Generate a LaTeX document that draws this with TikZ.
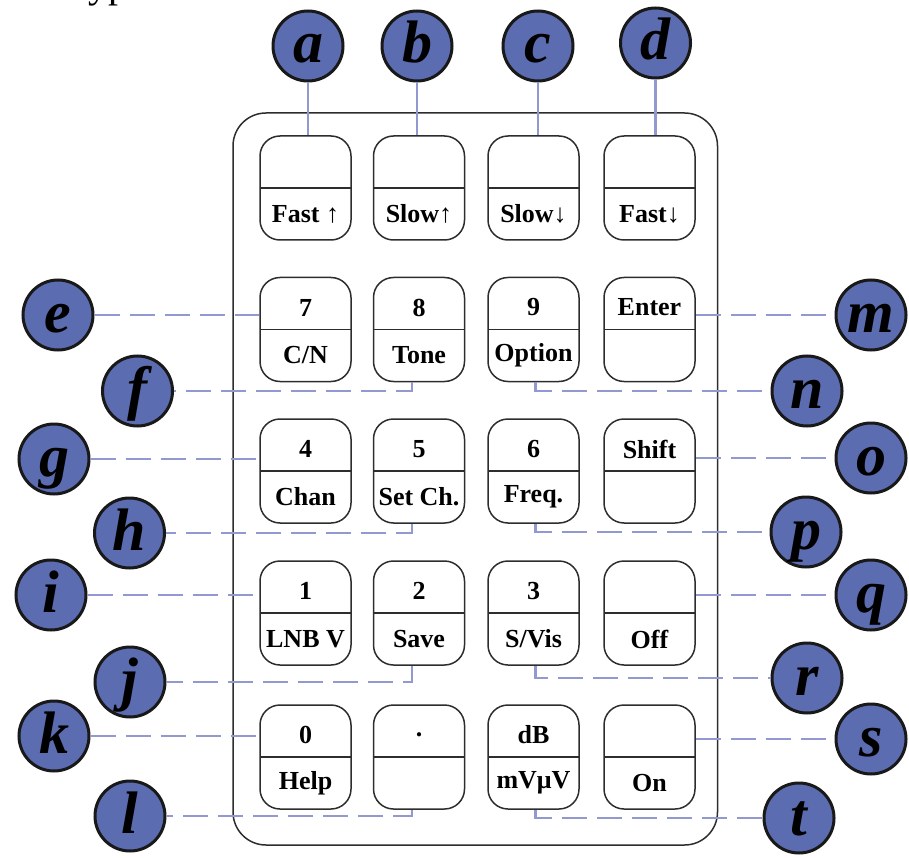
\documentclass[tikz,border=0pt]{standalone}
\usepackage{fontspec}
\setmainfont{Liberation Serif}
\usepackage{tikz}
\usepackage{xcolor}

\definecolor{tagblue}{RGB}{91,108,176}
\definecolor{leadblue}{RGB}{146,152,208}
\definecolor{casegray}{RGB}{45,45,45}

\tikzset{
  keybox/.style={draw=casegray, line width=1.5pt, rounded corners=20pt,
    minimum width=91pt, minimum height=104pt, inner sep=0pt,
    path picture={\draw[casegray, line width=1.5pt] (path picture bounding box.west) -- (path picture bounding box.east);}},
  keytext/.style={font=\bfseries\fontsize{26}{28}\selectfont, inner sep=0pt},
  keytop/.style={label={[keytext, yshift=22pt]center:#1}},
  keybot/.style={label={[keytext, yshift=-26pt]center:#1}},
  tag/.style={circle, draw=black!90, line width=3pt, fill=tagblue,
    minimum size=70pt, inner sep=0pt, text height=40pt, text depth=6pt,
    font=\bfseries\itshape\fontsize{60}{60}\selectfont},
  wire/.style={leadblue, line width=2.8pt},
  dashwire/.style={wire, dash pattern=on 25pt off 10pt}
}

\begin{document}
\begin{tikzpicture}[x=1pt, y=-1pt]
			\useasboundingbox (0,0) rectangle (909,858);
			\node [font=\fontsize{40}{40}\selectfont, anchor=base west, inner sep=0pt] (head) at (88,-2) {yp};
			% keypad case
			\draw [casegray, line width=1.5pt, rounded corners=33pt] (233,113) rectangle (717.5,845);
			% keys, row by row
			\node [keybox, keybot=Fast ↑] (kfu) at (305.5,188) {};
			\node [keybox, keybot=Slow↑] (ksu) at (419,188) {};
			\node [keybox, keybot=Slow↓] (ksd) at (533.5,188) {};
			\node [keybox, keybot=Fast↓] (kfd) at (649.5,188) {};
			\node [keybox, keytop=7, keybot=C/N] (k7) at (305.5,329.5) {};
			\node [keybox, keytop=8, keybot=Tone] (k8) at (419,329.5) {};
			\node [keybox, keytop=9, keybot=Option] (k9) at (533.5,329.5) {};
			\node [keybox, keytop=Enter] (kent) at (649.5,329.5) {};
			\node [keybox, keytop=4, keybot=Chan] (k4) at (305.5,471) {};
			\node [keybox, keytop=5, keybot=Set Ch.] (k5) at (419,471) {};
			\node [keybox, keytop=6, keybot=Freq.] (k6) at (533.5,471) {};
			\node [keybox, keytop=Shift] (kshift) at (649.5,471) {};
			\node [keybox, keytop=1, keybot=LNB V] (k1) at (305.5,613) {};
			\node [keybox, keytop=2, keybot=Save] (k2) at (419,613) {};
			\node [keybox, keytop=3, keybot=S/Vis] (k3) at (533.5,613) {};
			\node [keybox, keybot=Off] (koff) at (649.5,613) {};
			\node [keybox, keytop=0, keybot=Help] (k0) at (305.5,757) {};
			\node [keybox, keytop=.] (kdot) at (419,757) {};
			\node [keybox, keytop=dB, keybot=mVμV] (kdb) at (533.5,757) {};
			\node [keybox, keybot=On] (kon) at (649.5,757) {};
			% letter tags
			\node [tag] (ta) at (308,46) {a};
			\node [tag] (tb) at (417,46) {b};
			\node [tag] (tc) at (538,46) {c};
			\node [tag] (td) at (655.5,43) {d};
			\node [tag] (te) at (58,315) {e};
			\node [tag] (tf) at (137.5,391) {f};
			\node [tag] (tg) at (54,459) {g};
			\node [tag] (th) at (129.5,533) {h};
			\node [tag] (ti) at (51,595) {i};
			\node [tag] (tj) at (130,682) {j};
			\node [tag] (tk) at (54,736) {k};
			\node [tag] (tl) at (130,816) {l};
			\node [tag] (tm) at (871,315) {m};
			\node [tag] (tn) at (807,391) {n};
			\node [tag] (to) at (871,458) {o};
			\node [tag] (tp) at (806,532) {p};
			\node [tag] (tq) at (871,595) {q};
			\node [tag] (tr) at (807,678) {r};
			\node [tag] (ts) at (871,739) {s};
			\node [tag] (tt) at (799,818) {t};
			% leads
			\draw [wire] (ta) -- (ta |- kfu.north);
			\draw [wire] (tb) -- (tb |- ksu.north);
			\draw [wire] (tc) -- (tc |- ksd.north);
			\draw [wire] (td) -- (td |- kfd.north);
			\draw [dashwire] (te) -- (te -| k7.west);
			\draw [dashwire] ([xshift=-7pt]k8.south) |- (tf);
			\draw [dashwire] (tg) -- (tg -| k4.west);
			\draw [dashwire] ([xshift=-7pt]k5.south) |- (th);
			\draw [dashwire] (ti) -- (ti -| k1.west);
			\draw [dashwire] ([xshift=-7pt]k2.south) |- (tj);
			\draw [dashwire] (tk) -- (tk -| k0.west);
			\draw [dashwire] ([xshift=-7pt]kdot.south) |- (tl);
			\draw [dashwire] (kent.east |- tm) -- (tm);
			\draw [dashwire] ([xshift=2pt]k9.south) |- (tn);
			\draw [dashwire] (kshift.east |- to) -- (to);
			\draw [dashwire] ([xshift=2pt]k6.south) |- (tp);
			\draw [dashwire] (koff.east |- tq) -- (tq);
			\draw [dashwire] ([xshift=2pt]k3.south) |- (tr);
			\draw [dashwire] (kon.east |- ts) -- (ts);
			\draw [dashwire] ([xshift=2pt]kdb.south) |- (tt);
		\end{tikzpicture}
\end{document}
